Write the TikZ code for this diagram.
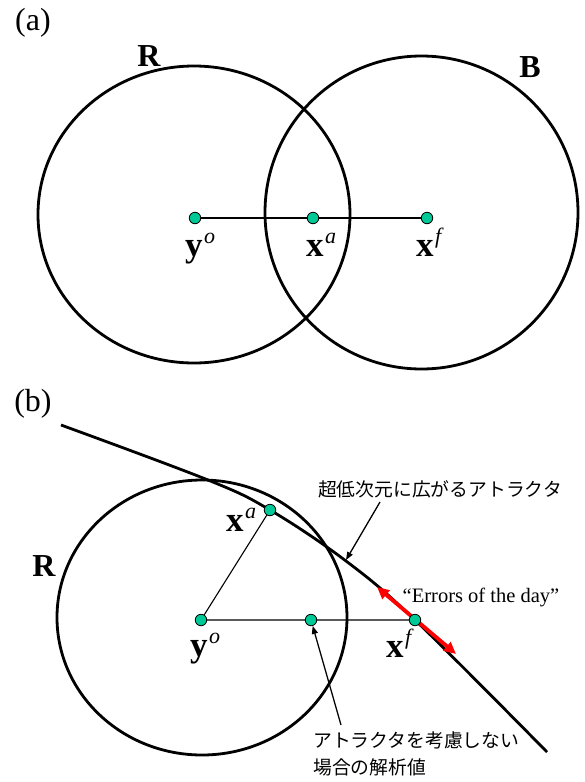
\documentclass[tikz,border=0pt]{standalone}
\usepackage{fontspec}
\setmainfont{Liberation Serif}
\newfontfamily\jpfont{Noto Sans CJK JP}
\usetikzlibrary{arrows.meta}
\definecolor{dotgreen}{RGB}{0,200,150}
\newcommand\vlab[2]{{\fontsize{35}{35}\selectfont\bfseries #1}{\fontsize{22}{22}\selectfont\itshape\raisebox{13pt}{\kern1.5pt#2}}}
\begin{document}
\begin{tikzpicture}[x=1pt,y=-1pt,
  bigring/.style={line width=2.8pt},
  thinline/.style={line width=1.1pt},
  dot/.style={circle, draw=black, line width=0.8pt, fill=dotgreen, minimum size=11.5pt, inner sep=0pt},
  panel/.style={font=\fontsize{32}{32}\selectfont},
  setlab/.style={font=\fontsize{32}{32}\selectfont\bfseries},
  vec/.style={anchor=base west, inner sep=0pt},
  jplab/.style={font=\jpfont\fontsize{18.8}{27}\selectfont},
  pointer/.style={line width=1.3pt, -{Triangle[length=8pt,width=6pt]}},
  errarrow/.style={red, line width=3.8pt, {Triangle[length=12pt,width=11pt]}-{Triangle[length=12pt,width=11pt]}}
]
\useasboundingbox (0,0) rectangle (585,782);

% ---------------- (a) ----------------
\node[panel] (pa) at (33,23) {(a)};
\draw[bigring] (194,214.5) ellipse [x radius=156pt, y radius=148.5pt];
\draw[bigring] (421.5,212.5) circle [radius=156.5pt];
\node[setlab] (Ra) at (149,56) {R};
\node[setlab] (Ba) at (530,67) {B};

\coordinate (YOa) at (195,218);
\coordinate (XAa) at (313,218);
\coordinate (XFa) at (427,218);
\draw[thinline] (YOa) -- (XFa);
\node[dot] (yoa) at (YOa) {};
\node[dot] (xaa) at (XAa) {};
\node[dot] (xfa) at (XFa) {};
\node[vec] (lyoa) at (185,256) {\vlab{y}{o}};
\node[vec] (lxaa) at (306,256) {\vlab{x}{a}};
\node[vec] (lxfa) at (416,256) {\vlab{x}{f}};

% ---------------- (b) ----------------
\node[panel] (pb) at (33,404) {(b)};
\draw[bigring] (202,617.5) ellipse [x radius=145pt, y radius=137.5pt];
\node[setlab] (Rb) at (44,566) {R};

% attractor
\draw[bigring] plot[smooth, tension=0.6] coordinates {(61,425) (208,480) (270,510) (346,561) (415,620) (547,752)};

\coordinate (EA) at (377,587);
\coordinate (EB) at (456,654);
\draw[errarrow] (EA) -- (EB);

\coordinate (YOb) at (201,620);
\coordinate (XAb) at (270,510);
\coordinate (XMb) at (311,620);
\coordinate (XFb) at (415,620);
\draw[thinline] (XAb) -- (YOb) -- (XFb);
\node[dot] (yob) at (YOb) {};
\node[dot] (xab) at (XAb) {};
\node[dot] (xmb) at (XMb) {};
\node[dot] (xfb) at (XFb) {};
\node[vec] (lyob) at (190,656) {\vlab{y}{o}};
\node[vec] (lxab) at (226,531) {\vlab{x}{a}};
\node[vec] (lxfb) at (386,657) {\vlab{x}{f}};

\node[font=\fontsize{20.5}{20.5}\selectfont, anchor=base] (err) at (481,602) {“Errors of the day”};

\node[jplab] (att) at (440,489) {超低次元に広がるアトラクタ};
\coordinate (attS) at (380,502);
\coordinate (attE) at (346,560);
\draw[pointer] (attS) -- (attE);

\node[jplab, anchor=north west, align=left, inner sep=0pt] (ana) at (313,731) {アトラクタを考慮しない\\場合の解析値};
\coordinate (anaS) at (341,725);
\draw[pointer] (anaS) -- (xmb);
\end{tikzpicture}
\end{document}
